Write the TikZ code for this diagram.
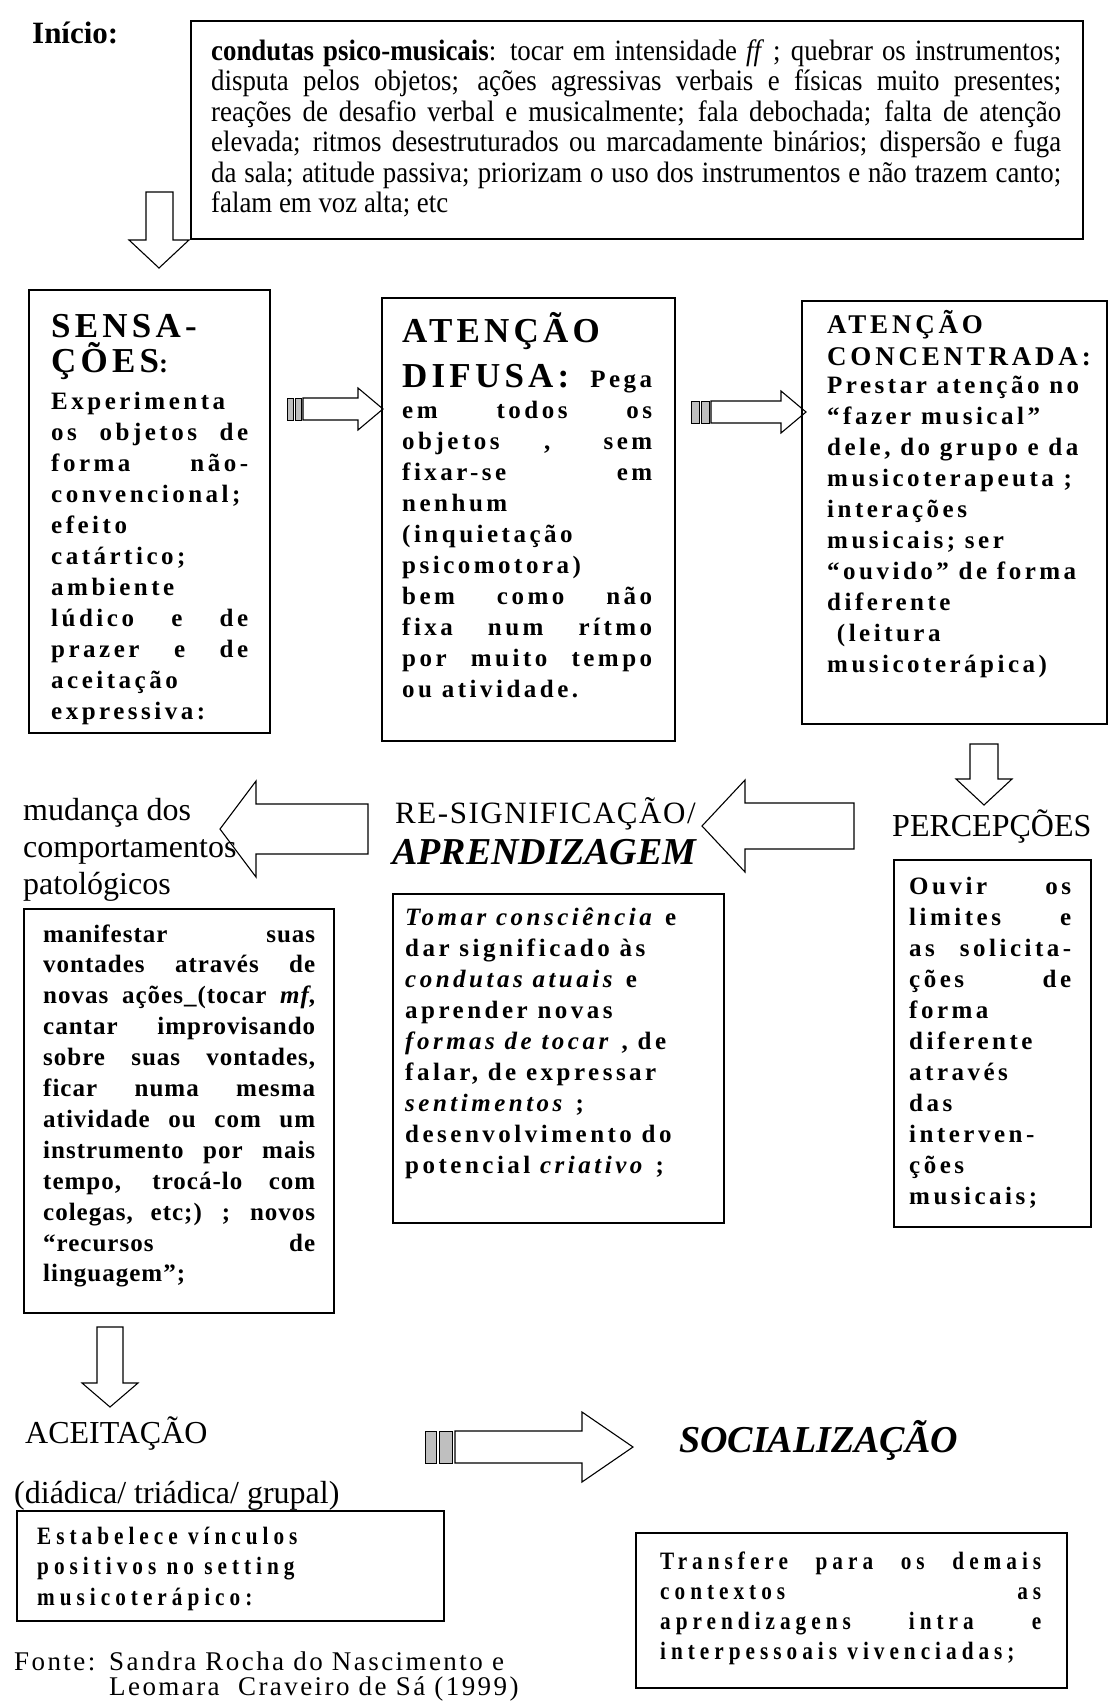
\documentclass[tikz,border=0pt]{standalone}
\usepackage{fontspec}
\setmainfont{Liberation Serif}
\newfontfamily\hdf[LetterSpace=12]{Liberation Serif}
\newfontfamily\bdf[LetterSpace=14]{Liberation Serif}
\newfontfamily\hcf[LetterSpace=14]{Liberation Serif}
\newfontfamily\mdf[LetterSpace=4]{Liberation Serif}
\newfontfamily\tpf[FakeStretch=0.91]{Liberation Serif}
\newfontfamily\csf[FakeStretch=0.85,LetterSpace=20]{Liberation Serif}
\newfontfamily\fnf[LetterSpace=9]{Liberation Serif}
\newfontfamily\lbf[LetterSpace=5]{Liberation Serif}
\newcommand{\jbox}[2]{\parbox[t]{#1}{\hyphenpenalty=10000 \exhyphenpenalty=10000 \tolerance=10000 \hbadness=10000 \noindent #2}}
\newcommand{\rbox}[2]{\parbox[t]{#1}{\raggedright\hyphenpenalty=10000 \exhyphenpenalty=10000 \hbadness=10000 \noindent #2}}
\newcommand{\bodyfont}{\bdf\bfseries\fontsize{25}{31}\selectfont}
\begin{document}
\begin{tikzpicture}[x=1pt,y=-1pt,
  box/.style={draw, line width=1.6pt, anchor=north west, inner sep=0pt},
  txt/.style={anchor=base west, inner sep=0pt},
  blk/.style={draw, line width=1.1pt, line join=miter},
  band/.style={draw, line width=0.9pt, fill=gray!50}]
\fill[white] (0,0) rectangle (1109,1702);
\useasboundingbox (0,0) rectangle (1109,1702);

% ---------- Inicio ----------
\node[txt] (inicio) at (32,44) {\bfseries\fontsize{31}{31}\selectfont Início:};
\node[box, minimum width=892pt, minimum height=218pt] (topbox) at (190,20) {};
\node[txt] (toptext) at (211,60) {\tpf\fontsize{29.5}{30.5}\selectfont\jbox{850pt}{%
{\bfseries condutas psico-musicais}: tocar em intensidade \textit{ff} ; quebrar os instrumentos;\linebreak
disputa pelos objetos; ações agressivas verbais e físicas muito presentes;\linebreak
reações de desafio verbal e musicalmente; fala debochada; falta de atenção\linebreak
elevada; ritmos desestruturados ou marcadamente binários; dispersão e fuga\linebreak
da sala; atitude passiva; priorizam o uso dos instrumentos e não trazem canto;\linebreak
falam em voz alta; etc}};

% down arrow 1
\draw[blk] (146,192) -- (173,192) -- (173,240) -- (189,240) -- (159,268) -- (129,240) -- (146,240) -- cycle;

% ---------- SENSACOES ----------
\node[box, minimum width=241pt, minimum height=443pt] (sens) at (28,289) {};
\node[txt] (sensH) at (51,337) {\hdf\bfseries\fontsize{35}{35}\selectfont\rbox{210pt}{SENSA-\\ÇÕES{\fontsize{27}{27}\selectfont:}}};
\node[txt] (sensT) at (51,409) {\bodyfont\jbox{197pt}{%
Experimenta\newline
os objetos de\linebreak
forma não-\linebreak
convencional;\newline
efeito\newline
catártico;\newline
ambiente\newline
lúdico e de\linebreak
prazer e de\linebreak
aceitação\newline
expressiva:}};

% arrow 1
\draw[band] (287,398) rectangle (293,420);
\draw[band] (295,398) rectangle (301,420);
\draw[blk] (303,398) -- (358,398) -- (358,388) -- (383,409) -- (358,430) -- (358,420) -- (303,420) -- cycle;

% ---------- ATENCAO DIFUSA ----------
\node[box, minimum width=293pt, minimum height=443pt] (difusa) at (381,297) {};
\node[txt] (difH) at (402,342) {\hdf\bfseries\fontsize{35}{35}\selectfont ATENÇÃO};
\node[txt] (difT) at (402,387) {\bodyfont\jbox{250pt}{%
{\hdf\fontsize{35}{31}\selectfont DIFUSA:} Pega\linebreak
em todos os\linebreak
objetos , sem\linebreak
fixar-se em\linebreak
nenhum\newline
(inquietação\newline
psicomotora)\newline
bem como não\linebreak
fixa num rítmo\linebreak
por muito tempo\linebreak
ou atividade.}};

% arrow 2
\draw[band] (691,401) rectangle (699,423);
\draw[band] (701,401) rectangle (709,423);
\draw[blk] (711,401) -- (781,401) -- (781,391) -- (806,412) -- (781,433) -- (781,423) -- (711,423) -- cycle;

% ---------- ATENCAO CONCENTRADA ----------
\node[box, minimum width=305pt, minimum height=423pt] (conc) at (801,300) {};
\node[txt] (concH) at (827,333) {\hcf\bfseries\fontsize{27}{32}\selectfont\rbox{278pt}{ATENÇÃO\\CONCENTRADA:}};
\node[txt] (concT) at (827,393) {\bodyfont\rbox{278pt}{%
Prestar atenção no\\
“fazer musical”\\
dele, do grupo e da\\
musicoterapeuta ;\\
interações\\
musicais; ser\\
“ouvido” de forma\\
diferente\\
\ (leitura\\
musicoterápica)}};

% down arrow 2
\draw[blk] (970,744) -- (998,744) -- (998,779) -- (1012,779) -- (984,805) -- (956,779) -- (970,779) -- cycle;

% ---------- PERCEPCOES ----------
\node[txt] (percL) at (892,836) {\fontsize{32}{32}\selectfont PERCEPÇÕES};
\node[box, minimum width=197pt, minimum height=367pt] (perc) at (893,859) {};
\node[txt] (percT) at (909,894) {\bodyfont\jbox{162pt}{%
Ouvir os\linebreak
limites e\linebreak
as solicita-\linebreak
ções de\linebreak
forma\newline
diferente\newline
através\newline
das\newline
interven-\newline
ções\newline
musicais;}};

% big left arrow 1
\draw[blk] (854,803) -- (745,803) -- (745,780) -- (702,826) -- (745,872) -- (745,849) -- (854,849) -- cycle;

% ---------- RE-SIGNIFICACAO ----------
\node[txt] (resL) at (395,823) {\lbf\fontsize{31}{31}\selectfont RE-SIGNIFICAÇÃO/};
\node[txt] (aprL) at (392,864) {\bfseries\itshape\fontsize{38}{38}\selectfont APRENDIZAGEM};
\node[box, minimum width=331pt, minimum height=329pt] (resig) at (392,893) {};
\node[txt] (resT) at (405,925) {\bodyfont\rbox{310pt}{%
\textit{Tomar consciência} e\\
dar significado às\\
\textit{condutas atuais} e\\
aprender novas\\
\textit{formas de tocar} , de\\
falar, de expressar\\
\textit{sentimentos} ;\\
desenvolvimento do\\
potencial \textit{criativo} ;}};

% big left arrow 2
\draw[blk] (368,804) -- (256,804) -- (256,781) -- (220,829) -- (256,877) -- (256,854) -- (368,854) -- cycle;

% ---------- MUDANCA ----------
\node[txt] (mudL) at (23,820) {\fontsize{32}{37}\selectfont\rbox{300pt}{mudança dos\\comportamentos\\patológicos}};
\node[box, minimum width=310pt, minimum height=404pt] (mud) at (23,908) {};
\node[txt] (mudT) at (43,942) {\mdf\bfseries\fontsize{25}{30.9}\selectfont\jbox{272pt}{%
manifestar suas\linebreak
vontades através de\linebreak
novas ações\_(tocar \textit{mf},\linebreak
cantar improvisando\linebreak
sobre suas vontades,\linebreak
ficar numa mesma\linebreak
atividade ou com um\linebreak
instrumento por mais\linebreak
tempo, trocá-lo com\linebreak
colegas, etc;) ; novos\linebreak
“recursos de\linebreak
linguagem”;}};

% down arrow 3
\draw[blk] (97,1327) -- (123,1327) -- (123,1383) -- (138,1383) -- (110,1407) -- (82,1383) -- (97,1383) -- cycle;

% ---------- ACEITACAO ----------
\node[txt] (aceL) at (25,1443) {\fontsize{32}{32}\selectfont ACEITAÇÃO};
\node[txt] (diaL) at (14,1503) {\fontsize{32}{32}\selectfont (diádica/ triádica/ grupal)};
\node[box, minimum width=427pt, minimum height=110pt] (acei) at (16,1510) {};
\node[txt] (aceT) at (37,1544) {\csf\bfseries\fontsize{25}{30.5}\selectfont\rbox{395pt}{%
Estabelece vínculos\\
positivos no setting\\
musicoterápico:}};

% arrow 3
\draw[band] (425,1431) rectangle (436,1463);
\draw[band] (439,1431) rectangle (452,1463);
\draw[blk] (455,1431) -- (582,1431) -- (582,1412) -- (633,1447) -- (582,1482) -- (582,1463) -- (455,1463) -- cycle;

% ---------- SOCIALIZACAO ----------
\node[txt] (socL) at (679,1452) {\bfseries\itshape\fontsize{38}{38}\selectfont SOCIALIZAÇÃO};
\node[box, minimum width=431pt, minimum height=155pt] (soc) at (635,1532) {};
\node[txt] (socT) at (660,1569) {\csf\bfseries\fontsize{25}{30}\selectfont\jbox{381pt}{%
Transfere para os demais\linebreak
contextos as\linebreak
aprendizagens intra e\linebreak
interpessoais vivenciadas;}};

% ---------- Fonte ----------
\node[txt] (fonteL) at (14,1670) {\fnf\fontsize{27}{25}\selectfont Fonte:};
\node[txt] (fonteT) at (109,1670) {\fnf\fontsize{27}{25}\selectfont\rbox{500pt}{Sandra Rocha do Nascimento e\\Leomara~ Craveiro de Sá (1999)}};
\end{tikzpicture}
\end{document}
